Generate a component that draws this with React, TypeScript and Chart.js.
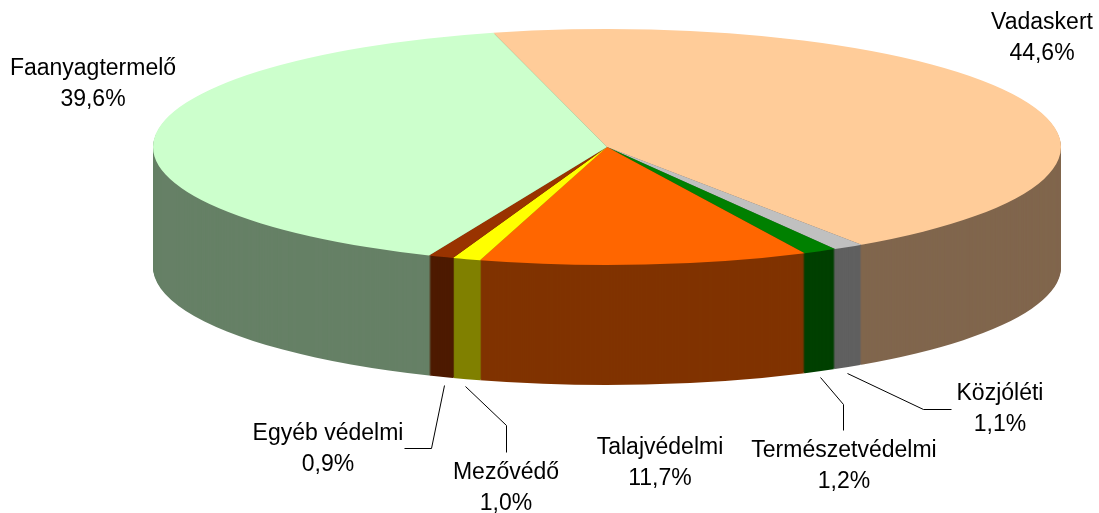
import React, { useEffect, useRef } from "react";
import { Chart, registerables } from "chart.js";

Chart.register(...registerables);

const categories = ["Vadaskert", "Közjóléti", "Természetvédelmi", "Talajvédelmi", "Mezővédő", "Egyéb védelmi", "Faanyagtermelő"];
const values = [44.6, 1.1, 1.2, 11.7, 1.0, 0.9, 39.6];
const topColors = ["#FFCC99", "#C0C0C0", "#008000", "#FF6600", "#FFFF00", "#993300", "#CCFFCC"];
const sideColors = ["#80664D", "#606060", "#004000", "#803300", "#808000", "#4D1A00", "#668066"];

// layout of the labels: centre x, first baseline y
const labelPos: [number, number][] = [[1042, 29], [1000, 400], [844, 457], [660, 454], [506, 479], [328, 440], [93, 75]];
const leaders: ([number, number][] | null)[] = [
  null,
  [[847, 373], [923, 409], [951, 409]],
  [[820, 377], [843, 404], [843, 430]],
  null,
  [[465, 386], [506, 425], [506, 452]],
  [[444, 385], [431, 448], [404, 448]],
  null,
];

const CX = 607, CY = 147, RX = 454, RY = 118, DEPTH = 120;

const pie3d = {
  id: "pie3d",
  beforeDatasetDraw(chart: any, args: any) {
    const ctx = chart.ctx;
    const arcs = args.meta.data;
    ctx.save();
    for (let d = DEPTH; d >= 1; d--) {
      arcs.forEach((arc: any, i: number) => {
        const p = arc.getProps(["startAngle", "endAngle", "outerRadius"], true);
        ctx.save();
        ctx.translate(CX, CY + d);
        ctx.scale(RX / p.outerRadius, RY / p.outerRadius);
        ctx.beginPath();
        ctx.moveTo(0, 0);
        ctx.arc(0, 0, p.outerRadius, p.startAngle, p.endAngle);
        ctx.closePath();
        ctx.fillStyle = sideColors[i];
        ctx.fill();
        ctx.restore();
      });
    }
    ctx.restore();
    const a0 = arcs[0].getProps(["x", "y", "outerRadius"], true);
    ctx.save();
    ctx.translate(CX, CY);
    ctx.scale(RX / a0.outerRadius, RY / a0.outerRadius);
    ctx.translate(-a0.x, -a0.y);
  },
  afterDatasetDraw(chart: any) {
    chart.ctx.restore();
  },
  afterDraw(chart: any) {
    const ctx = chart.ctx;
    ctx.save();
    ctx.strokeStyle = "#000";
    ctx.lineWidth = 1;
    leaders.forEach((pts) => {
      if (!pts) return;
      ctx.beginPath();
      pts.forEach(([x, y], k) => (k ? ctx.lineTo(x + 0.5, y + 0.5) : ctx.moveTo(x + 0.5, y + 0.5)));
      ctx.stroke();
    });
    ctx.fillStyle = "#000";
    ctx.font = '23px "Liberation Sans", Arial, sans-serif';
    ctx.textAlign = "center";
    ctx.textBaseline = "alphabetic";
    categories.forEach((name, i) => {
      const [x, y] = labelPos[i];
      ctx.fillText(name, x, y);
      ctx.fillText(values[i].toFixed(1).replace(".", ",") + "%", x, y + 31);
    });
    ctx.restore();
  },
};

export default function App() {
  const ref = useRef<HTMLCanvasElement>(null);
  useEffect(() => {
    const chart = new Chart(ref.current!, {
      type: "pie",
      data: {
        labels: categories,
        datasets: [{ data: values, backgroundColor: topColors, borderWidth: 0, clip: false } as any],
      },
      options: {
        responsive: false,
        animation: false,
        rotation: -14.5,
        layout: { padding: 0 },
        plugins: { legend: { display: false }, tooltip: { enabled: false }, title: { display: false } },
      },
      plugins: [pie3d],
    });
    return () => chart.destroy();
  }, []);
  return (
    <canvas
      ref={ref}
      width={1099}
      height={513}
      style={{ position: "absolute", left: 0, top: 0, width: 1099, height: 513, background: "#fff" }}
    />
  );
}
